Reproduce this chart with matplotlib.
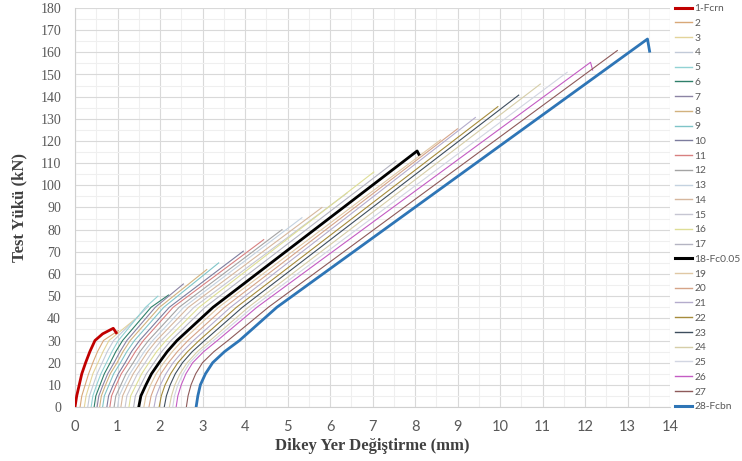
import numpy as np
import matplotlib
matplotlib.use("Agg")
import matplotlib.pyplot as plt
from matplotlib.ticker import MultipleLocator

# ---------------- data ----------------
labels = ['1-Fcrn', '2', '3', '4', '5', '6', '7', '8', '9', '10', '11', '12', '13', '14',
          '15', '16', '17', '18-Fc0.05', '19', '20', '21', '22', '23', '24', '25', '26',
          '27', '28-Fcbn']

colors = ['#C00000', '#D8A878', '#E3D49A', '#C2CAD8', '#92D2D4', '#2F7F6A', '#8C84A4',
          '#D2B27E', '#7FC4C8', '#7C7C9E', '#D88080', '#A4A4A4', '#C4D2E0', '#D6B79E',
          '#C6C6D2', '#DEDE96', '#B4B4C2', '#000000', '#E0C8A4', '#D6A488', '#B4ACCC',
          '#A68C3C', '#3E4E5E', '#D6CEA8', '#D2D6E2', '#C45CC4', '#8E5A5A', '#2E75B6']

# load levels (kN) used for the initial part of each curve
load_levels = [0, 5, 10, 15, 20, 25, 30, 45]

# displacement (mm) at which each curve reaches the load levels above (nan = not reached)
x_load0 = [0.00, 0.12, 0.22, 0.30, 0.38, 0.45, 0.52, 0.58, 0.65, 0.75, 0.82, 0.92, 1.00, 1.08,
           1.18, 1.27, 1.38, 1.50, 1.62, 1.74, 1.86, 1.98, 2.10, 2.22, 2.30, 2.38, 2.62, 2.85]
x_load5 = [0.04, 0.16, 0.26, 0.34, 0.42, 0.49, 0.56, 0.62, 0.69, 0.79, 0.86, 0.96, 1.04, 1.12,
           1.22, 1.31, 1.42, 1.55, 1.67, 1.79, 1.91, 2.03, 2.15, 2.27, 2.34, 2.42, 2.66, 2.89]
x_load10 = [0.10, 0.24, 0.34, 0.43, 0.51, 0.59, 0.66, 0.72, 0.80, 0.90, 0.97, 1.08, 1.16, 1.24,
            1.34, 1.44, 1.55, 1.67, 1.78, 1.89, 2.01, 2.12, 2.24, 2.35, 2.42, 2.50, 2.73, 2.95]
x_load15 = [0.16, 0.32, 0.42, 0.52, 0.61, 0.69, 0.77, 0.83, 0.91, 1.02, 1.09, 1.20, 1.29, 1.37,
            1.47, 1.57, 1.68, 1.80, 1.91, 2.02, 2.14, 2.25, 2.36, 2.47, 2.54, 2.61, 2.84, 3.07]
x_load20 = [0.25, 0.42, 0.54, 0.64, 0.74, 0.83, 0.92, 0.99, 1.07, 1.18, 1.26, 1.37, 1.46, 1.54,
            1.65, 1.74, 1.86, 1.98, 2.09, 2.20, 2.31, 2.42, 2.53, 2.64, 2.70, 2.77, 3.00, 3.24]
x_load25 = [0.35, 0.53, 0.66, 0.76, 0.87, 0.96, 1.06, 1.13, 1.22, 1.33, 1.42, 1.53, 1.63, 1.71,
            1.82, 1.92, 2.04, 2.17, 2.29, 2.41, 2.53, 2.65, 2.76, 2.88, 2.95, 3.03, 3.27, 3.52]
x_load30 = [0.47, 0.67, 0.80, 0.91, 1.02, 1.12, 1.22, 1.30, 1.40, 1.52, 1.61, 1.73, 1.83, 1.92,
            2.03, 2.14, 2.26, 2.40, 2.53, 2.66, 2.79, 2.92, 3.05, 3.18, 3.26, 3.35, 3.60, 3.87]
x_load45 = [np.nan, np.nan, np.nan, np.nan, 1.66, 1.79, 1.89, 1.99, 2.09, 2.22, 2.31, 2.45,
            2.56, 2.67, 2.80, 2.92, 3.06, 3.25, 3.38, 3.52, 3.66, 3.80, 3.94, 4.08, 4.18, 4.28,
            4.55, 4.75]

# extra point of the red curve's flat part before its peak
x_mid = [0.65] + [np.nan] * 27
y_mid = [33.0] + [np.nan] * 27

# peak point of each curve
x_peak = [0.90, 1.02, 1.50, 1.73, 1.95, 2.20, 2.55, 3.10, 3.38, 3.96, 4.44, 4.87, 5.34, 5.81,
          6.40, 7.03, 7.55, 8.05, 8.60, 9.00, 9.42, 9.95, 10.44, 10.95, 11.58, 12.13, 12.76, 13.47]
y_peak = [35.5, 34.5, 41.0, 45.5, 50.0, 50.5, 55.5, 62.0, 65.0, 70.3, 75.5, 80.0, 85.4, 90.0,
          96.5, 106.0, 111.0, 115.5, 120.5, 125.5, 130.6, 135.5, 140.7, 145.7, 151.0, 155.5,
          160.8, 166.0]

# final point after the load drop (nan = curve ends at the peak)
x_tail = [0.97, np.nan, np.nan, np.nan, np.nan, np.nan, np.nan, np.nan, np.nan, np.nan, np.nan,
          np.nan, np.nan, np.nan, np.nan, np.nan, np.nan, 8.09, np.nan, np.nan, np.nan, np.nan,
          np.nan, np.nan, np.nan, 12.18, np.nan, 13.52]
y_tail = [33.5, np.nan, np.nan, np.nan, np.nan, np.nan, np.nan, np.nan, np.nan, np.nan, np.nan,
          np.nan, np.nan, np.nan, np.nan, np.nan, np.nan, 114.0, np.nan, np.nan, np.nan, np.nan,
          np.nan, np.nan, np.nan, 152.0, np.nan, 160.5]

thick = {'1-Fcrn', '18-Fc0.05', '28-Fcbn'}

x_ticks = list(range(0, 15))
y_ticks = list(range(0, 190, 10))

# ---------------- figure ----------------
W, H = 742, 461
fig = plt.figure(figsize=(W / 100, H / 100), dpi=100)
ax = fig.add_axes([75 / W, 1 - 407 / H, (670 - 75) / W, (407 - 8) / H])

ax.set_xlim(0, 14)
ax.set_ylim(0, 180)
ax.xaxis.set_major_locator(MultipleLocator(1))
ax.xaxis.set_minor_locator(MultipleLocator(0.5))
ax.yaxis.set_major_locator(MultipleLocator(10))
ax.yaxis.set_minor_locator(MultipleLocator(5))
ax.grid(which='major', color='#D9D9D9', linewidth=0.8)
ax.grid(which='minor', color='#EFEFEF', linewidth=0.8)
ax.set_axisbelow(True)

for s in ['top', 'right']:
    ax.spines[s].set_visible(False)
ax.spines['left'].set_color('#D0D0D0')
ax.spines['bottom'].set_color('#D0D0D0')

level_cols = [x_load0, x_load5, x_load10, x_load15, x_load20, x_load25, x_load30, x_load45]

handles = []
for i, lab in enumerate(labels):
    xs, ys = [], []
    for lev, col in zip(load_levels, level_cols):
        if not np.isnan(col[i]):
            xs.append(col[i]); ys.append(lev)
    if not np.isnan(x_mid[i]):
        xs.append(x_mid[i]); ys.append(y_mid[i])
    xs.append(x_peak[i]); ys.append(y_peak[i])
    if not np.isnan(x_tail[i]):
        xs.append(x_tail[i]); ys.append(y_tail[i])
    lw = 2.0 if lab in thick else 0.8
    z = 5 if lab in thick else 3
    h, = ax.plot(xs, ys, color=colors[i], linewidth=lw, zorder=z, label=lab,
                 solid_joinstyle='round')
    handles.append(h)

ax.set_xticks(x_ticks)
ax.set_yticks(y_ticks)
ax.tick_params(which='both', length=0)
ax.tick_params(axis='x', pad=9, labelsize=10.5, labelcolor='#595959')
ax.tick_params(axis='y', pad=10, labelsize=10, labelcolor='#595959')
for t in ax.get_xticklabels():
    t.set_fontfamily('Lato')
for t in ax.get_yticklabels():
    t.set_fontfamily('Liberation Serif')

ax.set_xlabel('Dikey Yer Değiştirme (mm)', fontfamily='Liberation Serif', fontweight='bold',
              fontsize=12, color='#404040', labelpad=3)
ax.set_ylabel('Test Yükü (kN)', fontfamily='Liberation Serif', fontweight='bold',
              fontsize=12, color='#404040', labelpad=9)

leg = fig.legend(handles=handles, labels=labels, loc='upper left',
                 bbox_to_anchor=(675 / W, 1.0 - 4 / H), frameon=False,
                 prop={'family': 'Lato', 'size': 7.4}, labelcolor='#595959',
                 handlelength=1.7, handletextpad=0.2, labelspacing=0.54,
                 borderpad=0.0, borderaxespad=0.0)
for lh, lab in zip(leg.get_lines(), labels):
    lh.set_linewidth(2.2 if lab in thick else 1.0)

fig.savefig('out.png', dpi=100)
